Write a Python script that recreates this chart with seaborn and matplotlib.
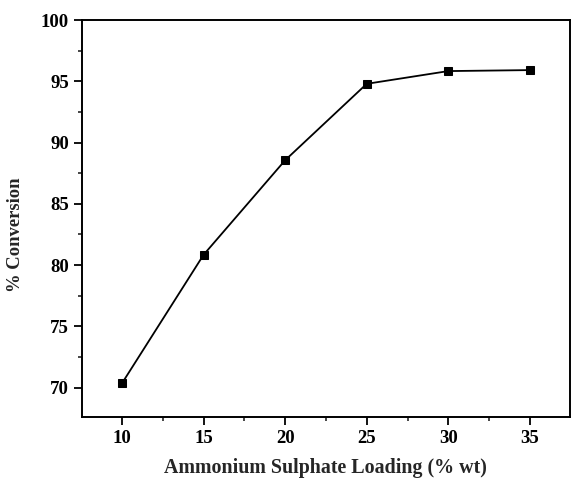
import matplotlib
matplotlib.use("Agg")
import matplotlib.pyplot as plt
from matplotlib.ticker import MultipleLocator
import seaborn as sns
import pandas as pd

loading = [10, 15, 20, 25, 30, 35]
conversion = [70.35, 80.84, 88.56, 94.80, 95.84, 95.92]
x_label = "Ammonium Sulphate Loading (% wt)"
y_label = "% Conversion"

sns.set_theme(style="ticks")
plt.rcParams['font.family'] = ['Liberation Serif', 'DejaVu Serif']
plt.rcParams['font.weight'] = 'bold'

df = pd.DataFrame({"x": loading, "y": conversion})

fig = plt.figure(figsize=(5.71, 4.79), dpi=100)
ax = fig.add_axes([0.1436, 0.1294, 0.998 - 0.1436, 0.958 - 0.1294])
sns.lineplot(data=df, x="x", y="y", ax=ax, color="black", linewidth=1.3,
             marker="s", markersize=6, markeredgecolor="black", markerfacecolor="black")

ax.set_xlim(7.55, 37.45)
ax.set_ylim(67.6, 100)
ax.xaxis.set_major_locator(MultipleLocator(5))
ax.xaxis.set_minor_locator(MultipleLocator(2.5))
ax.yaxis.set_major_locator(MultipleLocator(5))
ax.yaxis.set_minor_locator(MultipleLocator(2.5))
ax.tick_params(which="major", direction="out", length=6, width=1.3, labelsize=13.5, colors="black")
ax.tick_params(which="minor", direction="out", length=3, width=1.2)
for lab in ax.get_xticklabels() + ax.get_yticklabels():
    lab.set_fontweight("bold")
for s in ax.spines.values():
    s.set_visible(True)
    s.set_linewidth(1.4)
    s.set_color("black")
ax.set_xlabel(x_label, fontsize=14.4, fontweight="bold", labelpad=8)
ax.set_ylabel(y_label, fontsize=13.4, fontweight="bold")
ax.yaxis.set_label_coords(-0.118, 0.46)

fig.savefig("out.png", dpi=100)
